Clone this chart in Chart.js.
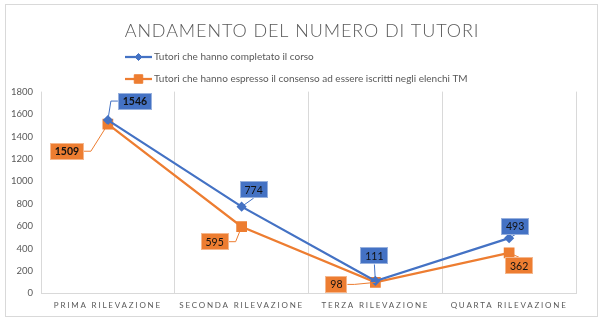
<!DOCTYPE html>
<html>
<head>
<meta charset="utf-8">
<script src="https://cdn.jsdelivr.net/npm/chart.js@4.4.1/dist/chart.umd.min.js"></script>
<style>
  html, body { margin: 0; padding: 0; background: #fff; }
  #wrap { width: 600px; height: 322px; position: relative; }
</style>
</head>
<body>
<div id="wrap"><canvas id="grafico"></canvas></div>
<script>
// dati
const categorie = ['PRIMA RILEVAZIONE', 'SECONDA RILEVAZIONE', 'TERZA RILEVAZIONE', 'QUARTA RILEVAZIONE'];
const tutoriCompletato = [1546, 774, 111, 493];
const tutoriConsenso = [1509, 595, 98, 362];
const etichetteSerie = [
  'Tutori che hanno completato il corso',
  'Tutori che hanno espresso il consenso ad essere iscritti negli elenchi TM'
];
const titolo = 'ANDAMENTO DEL NUMERO DI TUTORI';

const BLU = '#4472C4';
const ARANCIO = '#ED7D31';
const GRIGIO = '#595959';
const FONT = 'Lato, "Liberation Sans", sans-serif';

// spostamento delle etichette dati rispetto al punto (px)
const spostamenti = [
  [[27, -19], [12, -17], [-1, -25], [6, -12]],
  [[-41, 27], [-27, 15], [-39, 2], [10, 13]]
];

// cornice, legenda, spaziatura delle lettere
const pluginDecoro = {
  id: 'decoro',
  beforeDraw(chart) {
    const ctx = chart.ctx;
    ctx.save();
    ctx.fillStyle = '#fff';
    ctx.fillRect(0, 0, chart.width, chart.height);
    ctx.strokeStyle = '#d9d9d9';
    ctx.lineWidth = 1;
    ctx.strokeRect(5.5, 4.5, 592, 312);
    ctx.restore();

    const tb = chart.titleBlock;
    if (tb && !tb._spaziato) {
      const orig = tb.draw.bind(tb);
      tb.draw = function () {
        ctx.save();
        ctx.translate(11, 0);
        ctx.letterSpacing = '0.9px';
        orig();
        ctx.restore();
      };
      tb._spaziato = true;
    }
    const sx = chart.scales.x;
    if (sx && !sx._spaziato) {
      const origL = sx.drawLabels.bind(sx);
      sx.drawLabels = function (a) { ctx.save(); ctx.letterSpacing = '1.8px'; origL(a); ctx.restore(); };
      sx._spaziato = true;
    }
  },
  afterDraw(chart) {
    const ctx = chart.ctx;
    ctx.save();
    chart.data.datasets.forEach((ds, i) => {
      const y = 57 + i * 22;
      ctx.strokeStyle = ds.borderColor;
      ctx.lineWidth = 2.25;
      ctx.beginPath();
      ctx.moveTo(125, y);
      ctx.lineTo(152, y);
      ctx.stroke();
      ctx.fillStyle = ds.borderColor;
      ctx.strokeStyle = ds.borderColor;
      ctx.lineWidth = 1;
      Chart.helpers.drawPoint(ctx, { pointStyle: ds.pointStyle, radius: ds.pointRadius, borderWidth: 1 }, 138.5, y);
      ctx.fillStyle = GRIGIO;
      ctx.font = '10px ' + FONT;
      ctx.textBaseline = 'middle';
      ctx.textAlign = 'left';
      ctx.fillText(ds.label, 154, y);
    });
    ctx.restore();
  },
  afterDatasetsDraw(chart) {
    const ctx = chart.ctx;
    ctx.save();
    chart.data.datasets.forEach((ds, di) => {
      const meta = chart.getDatasetMeta(di);
      meta.data.forEach((pt, i) => {
        const testo = String(ds.data[i]);
        const [dx, dy] = spostamenti[di][i];
        ctx.font = (i === 0 ? 'bold ' : '') + '10.5px ' + FONT;
        const w = Math.round(ctx.measureText(testo).width + 10);
        const h = 17;
        const cx = pt.x + dx, cy = pt.y + dy;
        // linea di richiamo
        ctx.strokeStyle = ds.borderColor;
        ctx.lineWidth = 1;
        ctx.beginPath();
        if (Math.abs(dx) > w / 2 + 2) {
          const sx = dx > 0 ? cx - w / 2 : cx + w / 2;
          const dir = dx > 0 ? -1 : 1;
          ctx.moveTo(sx, cy);
          ctx.lineTo(sx + dir * 7, cy);
          ctx.lineTo(pt.x, pt.y);
        } else {
          const sy = dy < 0 ? cy + h / 2 : cy - h / 2;
          ctx.moveTo(cx, sy);
          ctx.lineTo(pt.x, pt.y);
        }
        ctx.stroke();
        // riquadro
        ctx.fillStyle = ds.borderColor;
        ctx.fillRect(Math.round(cx - w / 2), Math.round(cy - h / 2), w, h);
        ctx.strokeStyle = 'rgba(255,255,255,0.45)';
        ctx.strokeRect(Math.round(cx - w / 2) + 0.5, Math.round(cy - h / 2) + 0.5, w - 1, h - 1);
        ctx.fillStyle = '#111';
        ctx.textAlign = 'center';
        ctx.textBaseline = 'middle';
        ctx.fillText(testo, cx, cy + 0.5);
      });
    });
    ctx.restore();
  }
};

new Chart(document.getElementById('grafico'), {
  type: 'line',
  data: {
    labels: categorie,
    datasets: [
      {
        label: etichetteSerie[0],
        data: tutoriCompletato,
        borderColor: BLU,
        backgroundColor: BLU,
        borderWidth: 2.25,
        pointStyle: 'rectRot',
        pointRadius: 3.5,
        tension: 0
      },
      {
        label: etichetteSerie[1],
        data: tutoriConsenso,
        borderColor: ARANCIO,
        backgroundColor: ARANCIO,
        borderWidth: 2.25,
        pointStyle: 'rect',
        pointRadius: 6,
        tension: 0
      }
    ]
  },
  options: {
    responsive: true,
    maintainAspectRatio: false,
    animation: false,
    layout: { padding: { left: 6, right: 24, top: 0, bottom: 5 } },
    plugins: {
      legend: { display: false },
      tooltip: { enabled: false },
      title: {
        display: true,
        text: titolo,
        color: GRIGIO,
        font: { family: FONT, size: 18, weight: '300' },
        padding: { top: 20, bottom: 50 }
      }
    },
    scales: {
      x: {
        offset: true,
        grid: { offset: true, color: '#d9d9d9', drawTicks: false },
        border: { color: '#d9d9d9' },
        ticks: {
          color: GRIGIO,
          font: { family: FONT, size: 8 },
          padding: 7,
          maxRotation: 0,
          autoSkip: false
        }
      },
      y: {
        min: 0,
        max: 1800,
        grid: { display: false, drawTicks: false },
        border: { display: false },
        afterFit(scale) { scale.width = 35; },
        ticks: {
          stepSize: 200,
          color: GRIGIO,
          font: { family: FONT, size: 9.5 },
          padding: 8,
          callback: (v) => String(v)
        }
      }
    }
  },
  plugins: [pluginDecoro]
});
</script>
</body>
</html>
